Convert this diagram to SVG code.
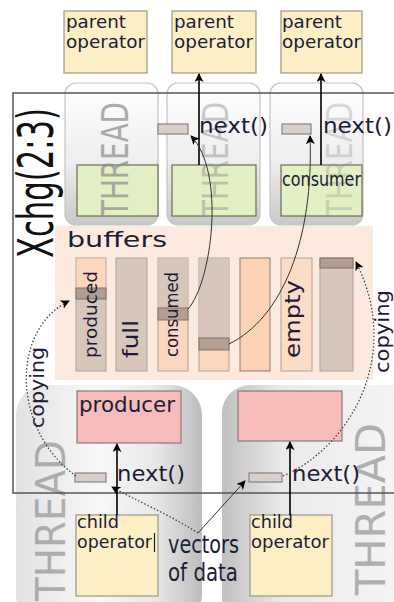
<svg xmlns="http://www.w3.org/2000/svg" width="394" height="602" viewBox="0 0 394 602">
  <style>
    .lbl { font-family: "DejaVu Sans", "Liberation Sans", sans-serif; fill: #1c1c38; }
    .op { fill: #fcefc6; stroke: #9a9686; stroke-width: 1.2; }
    .cons { fill: #e2f0c4; stroke: #6c6c5c; stroke-width: 1.2; }
    .prod { fill: #f6bcbc; stroke: #8a7a7a; stroke-width: 1.2; }
    .slot { fill: #d9d0cb; stroke: #8a8080; stroke-width: 1.2; }
    .bufdark { fill: #ad9a8e; stroke: #7a6a60; stroke-width: 1; opacity: 0.9; }
    .col { stroke: #c4c4c4; stroke-width: 1.2; fill: url(#colGrad); }
    .thread { font-family: "DejaVu Sans", "Liberation Sans", sans-serif; fill: #8c8c8c; }
    .arrow { fill: none; stroke: #000; stroke-width: 1.6; }
    .thin { fill: none; stroke: #333; stroke-width: 1; }
    .dot { fill: none; stroke: #444; stroke-width: 1.3; stroke-dasharray: 1.5 2; }
  </style>
  <defs>
    <linearGradient id="colGrad" x1="0" y1="0" x2="0" y2="1">
      <stop offset="0" stop-color="#ffffff"/>
      <stop offset="0.55" stop-color="#eeeeee"/>
      <stop offset="1" stop-color="#c8c8c8"/>
    </linearGradient>
    <linearGradient id="leftBlob" gradientUnits="userSpaceOnUse" x1="15" y1="0" x2="202" y2="0">
      <stop offset="0" stop-color="#e2e2e2"/>
      <stop offset="0.45" stop-color="#f8f8f8"/>
      <stop offset="0.75" stop-color="#e8e8e8"/>
      <stop offset="1" stop-color="#bdbdbd"/>
    </linearGradient>
    <linearGradient id="rightBlob" gradientUnits="userSpaceOnUse" x1="222" y1="0" x2="394" y2="0">
      <stop offset="0" stop-color="#c0c0c0"/>
      <stop offset="0.35" stop-color="#eaeaea"/>
      <stop offset="1" stop-color="#f4f4f4"/>
    </linearGradient>
    <marker id="head" viewBox="0 0 10 10" refX="9" refY="5" markerWidth="9" markerHeight="9" markerUnits="userSpaceOnUse" orient="auto">
      <path d="M0,0 L10,5 L0,10 L2.5,5 Z" fill="#000"/>
    </marker>
  </defs>

  <!-- producer-side threads -->
  <g id="thread-producer-left">
    <rect x="16" y="385" width="186" height="240" rx="30" fill="url(#leftBlob)"/>
    <text class="thread" font-size="41" textLength="161" lengthAdjust="spacingAndGlyphs" transform="translate(65,601) rotate(-90)" opacity="0.65">THREAD</text>
  </g>
  <g id="thread-producer-right">
    <rect x="222" y="385" width="200" height="240" rx="28" fill="url(#rightBlob)"/>
    <text class="thread" font-size="40" textLength="172" lengthAdjust="spacingAndGlyphs" transform="translate(385,595) rotate(-90)" opacity="0.65">THREAD</text>
  </g>

  <!-- consumer-side threads -->
  <g id="thread-consumer-1">
    <rect class="col" x="65" y="83" width="93" height="142" rx="11"/>
    <rect class="cons" x="77" y="165" width="81" height="51"/>
    <text class="thread" font-size="38" textLength="115" lengthAdjust="spacingAndGlyphs" transform="translate(128,217) rotate(-90)" opacity="0.7">THREAD</text>
  </g>
  <g id="thread-consumer-2">
    <rect class="col" x="167" y="83" width="93" height="142" rx="11"/>
    <rect class="cons" x="172" y="165" width="84" height="51"/>
    <text class="thread" font-size="36" textLength="115" lengthAdjust="spacingAndGlyphs" transform="translate(228,217) rotate(-90)" opacity="0.45">THREAD</text>
    <rect class="slot" x="158" y="124" width="30" height="10"/>
    <text class="lbl" x="199" y="133" font-size="22" textLength="69" lengthAdjust="spacingAndGlyphs">next()</text>
  </g>
  <g id="thread-consumer-3">
    <rect class="col" x="270" y="83" width="93" height="142" rx="11"/>
    <rect class="cons" x="281" y="165" width="81" height="51"/>
    <text class="thread" font-size="36" textLength="115" lengthAdjust="spacingAndGlyphs" transform="translate(352,217) rotate(-90)" opacity="0.3">THREAD</text>
    <text class="lbl" x="282" y="186" font-size="20" textLength="79" lengthAdjust="spacingAndGlyphs">consumer</text>
    <rect class="slot" x="282" y="124" width="29" height="10"/>
    <text class="lbl" x="323" y="133" font-size="22" textLength="69" lengthAdjust="spacingAndGlyphs">next()</text>
  </g>

  <!-- exchange operator frame -->
  <g id="xchg">
    <path d="M400,93 L13,93 L13,493 L400,493" fill="none" stroke="#555" stroke-width="1.5"/>
    <text x="0" y="0" font-family="DejaVu Sans, Liberation Sans, sans-serif" font-size="50" fill="#111" textLength="150" lengthAdjust="spacingAndGlyphs" transform="translate(53,258) rotate(-90)">Xchg(2:3)</text>
  </g>

  <!-- parent operators -->
  <g id="parent-1">
    <rect class="op" x="64" y="11" width="83" height="62"/>
    <text class="lbl" x="66" y="28" font-size="18" textLength="60" lengthAdjust="spacingAndGlyphs">parent</text>
    <text class="lbl" x="66" y="48" font-size="18" textLength="79" lengthAdjust="spacingAndGlyphs">operator</text>
  </g>
  <g id="parent-2">
    <rect class="op" x="172" y="11" width="84" height="62"/>
    <text class="lbl" x="174" y="28" font-size="18" textLength="60" lengthAdjust="spacingAndGlyphs">parent</text>
    <text class="lbl" x="174" y="48" font-size="18" textLength="79" lengthAdjust="spacingAndGlyphs">operator</text>
  </g>
  <g id="parent-3">
    <rect class="op" x="281" y="11" width="81" height="62"/>
    <text class="lbl" x="282" y="28" font-size="18" textLength="60" lengthAdjust="spacingAndGlyphs">parent</text>
    <text class="lbl" x="282" y="48" font-size="18" textLength="79" lengthAdjust="spacingAndGlyphs">operator</text>
  </g>

  <!-- buffer pool -->
  <g id="buffers">
    <rect x="55" y="226" width="318" height="154" fill="#fdeade"/>
    <text class="lbl" x="67" y="247" font-size="21" textLength="100" lengthAdjust="spacingAndGlyphs">buffers</text>
    <!-- 1: produced -->
    <rect x="76" y="258" width="30" height="113" fill="#d7c6ba" stroke="#b0a096"/>
    <rect x="76.5" y="258.5" width="29" height="30" fill="#fdd7bd"/>
    <rect class="bufdark" x="76" y="288" width="30" height="11"/>
    <text class="lbl" font-size="18" textLength="87" lengthAdjust="spacingAndGlyphs" transform="translate(97,358) rotate(-90)">produced</text>
    <!-- 2: full -->
    <rect x="116" y="258" width="31" height="113" fill="#d7c6ba" stroke="#b0a096"/>
    <text class="lbl" font-size="22" textLength="38" lengthAdjust="spacingAndGlyphs" transform="translate(138,358) rotate(-90)">full</text>
    <!-- 3: consumed -->
    <rect x="158" y="258" width="30" height="113" fill="#fdd7bd" stroke="#b0a096"/>
    <rect x="158.5" y="258.5" width="29" height="50" fill="#d7c6ba"/>
    <rect class="bufdark" x="158" y="308" width="30" height="12"/>
    <text class="lbl" font-size="18" textLength="85" lengthAdjust="spacingAndGlyphs" transform="translate(178,357) rotate(-90)">consumed</text>
    <!-- 4 -->
    <rect x="199" y="258" width="30" height="113" fill="#fdd7bd" stroke="#b0a096"/>
    <rect x="199.5" y="258.5" width="29" height="80" fill="#d7c6ba"/>
    <rect class="bufdark" x="199" y="338" width="30" height="12"/>
    <!-- 5 -->
    <rect x="240" y="258" width="30" height="113" fill="#fdd2b4" stroke="#8b7b70"/>
    <!-- 6: empty -->
    <rect x="281" y="258" width="31" height="113" fill="#fddcc6" stroke="#b0a096"/>
    <text class="lbl" font-size="21" textLength="78" lengthAdjust="spacingAndGlyphs" transform="translate(300,358) rotate(-90)">empty</text>
    <!-- 7 -->
    <rect x="320" y="258" width="33" height="113" fill="#d7c6ba" stroke="#b0a096"/>
    <rect class="bufdark" x="320" y="258" width="33" height="10"/>
  </g>

  <!-- producers -->
  <g id="producer-left">
    <rect class="prod" x="77" y="391" width="104" height="52"/>
    <text class="lbl" x="79" y="412" font-size="22" textLength="96" lengthAdjust="spacingAndGlyphs">producer</text>
    <rect class="slot" x="75" y="473" width="31" height="9"/>
    <text class="lbl" x="117" y="481" font-size="22" textLength="68" lengthAdjust="spacingAndGlyphs">next()</text>
  </g>
  <g id="producer-right">
    <rect class="prod" x="238" y="391" width="104" height="50"/>
    <rect class="slot" x="249" y="473" width="33" height="9"/>
    <text class="lbl" x="292" y="481" font-size="22" textLength="68" lengthAdjust="spacingAndGlyphs">next()</text>
  </g>

  <!-- child operators -->
  <g id="child-left">
    <rect class="op" x="76" y="515" width="82" height="81"/>
    <text class="lbl" x="77" y="528" font-size="17.5" textLength="42" lengthAdjust="spacingAndGlyphs">child</text>
    <text class="lbl" x="77" y="548" font-size="17.5" textLength="75" lengthAdjust="spacingAndGlyphs">operator</text>
    <line x1="154.5" y1="533" x2="154.5" y2="552" stroke="#1c1c38" stroke-width="1.2"/>
  </g>
  <g id="child-right">
    <rect class="op" x="250" y="515" width="82" height="81"/>
    <text class="lbl" x="251" y="528" font-size="17.5" textLength="42" lengthAdjust="spacingAndGlyphs">child</text>
    <text class="lbl" x="251" y="548" font-size="17.5" textLength="78" lengthAdjust="spacingAndGlyphs">operator</text>
  </g>

  <!-- labels -->
  <g id="vectors-label">
    <text class="lbl" x="168" y="553" font-size="24" textLength="71" lengthAdjust="spacingAndGlyphs">vectors</text>
    <text class="lbl" x="168" y="581" font-size="24" textLength="70" lengthAdjust="spacingAndGlyphs">of data</text>
  </g>
  <g id="copying-labels">
    <text class="lbl" font-size="19" textLength="81" lengthAdjust="spacingAndGlyphs" transform="translate(44,428) rotate(-90)">copying</text>
    <text class="lbl" font-size="19" textLength="83" lengthAdjust="spacingAndGlyphs" transform="translate(389,373) rotate(-90)">copying</text>
  </g>

  <!-- connectors -->
  <g id="connectors">
    <line class="arrow" x1="199" y1="165" x2="199" y2="74" marker-end="url(#head)"/>
    <line class="arrow" x1="321" y1="165" x2="321" y2="74" marker-end="url(#head)"/>
    <line class="arrow" x1="117" y1="515" x2="117" y2="444" marker-end="url(#head)"/>
    <line class="arrow" x1="290" y1="515" x2="290" y2="442" marker-end="url(#head)"/>
    <path class="thin" d="M188,309 C212,282 226,172 191,136" marker-end="url(#head)"/>
    <path class="thin" d="M229,344 C282,318 314,240 310,136" marker-end="url(#head)"/>
    <path class="dot" d="M76,476 C12,430 10,330 69,301" marker-end="url(#head)"/>
    <path class="dot" d="M283,476 C345,450 405,360 356,262" marker-end="url(#head)"/>
    <path class="dot" d="M198,533 C170,515 135,500 112,487" marker-end="url(#head)"/>
    <path class="thin" stroke="#555" d="M198,533 L245,481" marker-end="url(#head)"/>
  </g>
</svg>
